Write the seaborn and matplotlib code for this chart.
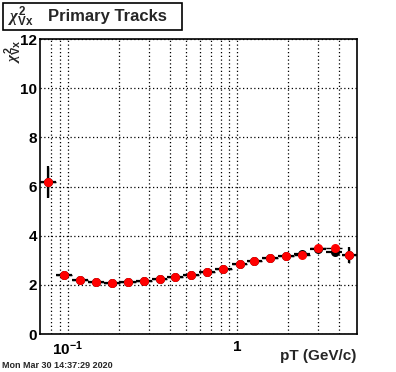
import numpy as np
import pandas as pd
import matplotlib
matplotlib.use("Agg")
import matplotlib.pyplot as plt
import seaborn as sns
from matplotlib.patches import Rectangle
from matplotlib.ticker import FixedLocator, NullFormatter, FixedFormatter

# pT bin centres (GeV/c)
pt = [0.0765, 0.0955, 0.1185, 0.1475, 0.183, 0.228, 0.281, 0.348, 0.432, 0.537,
      0.668, 0.830, 1.037, 1.265, 1.573, 1.955, 2.43, 3.02, 3.76, 4.60]
# red series (drawn on top)
chi2_red = [6.19, 2.41, 2.20, 2.10, 2.06, 2.10, 2.14, 2.24, 2.32, 2.39,
            2.51, 2.64, 2.85, 2.97, 3.08, 3.17, 3.21, 3.51, 3.52, 3.21]
err_red = [0.62, 0.05, 0.03, 0.03, 0.03, 0.03, 0.03, 0.03, 0.03, 0.03,
           0.03, 0.04, 0.04, 0.05, 0.05, 0.06, 0.07, 0.09, 0.12, 0.30]
# black series (mostly hidden behind red)
chi2_black = [6.19, 2.41, 2.20, 2.10, 2.06, 2.10, 2.14, 2.24, 2.32, 2.39,
              2.51, 2.64, 2.85, 2.97, 3.10, 3.19, 3.24, 3.44, 3.32, 3.21]
err_black = [0.65, 0.05, 0.03, 0.03, 0.03, 0.03, 0.03, 0.03, 0.03, 0.03,
             0.03, 0.04, 0.04, 0.05, 0.05, 0.06, 0.07, 0.09, 0.12, 0.32]

df = pd.DataFrame({"pt": pt, "red": chi2_red, "black": chi2_black})

# bin edges from geometric midpoints between centres
lp = np.log10(pt)
mids = (lp[1:] + lp[:-1]) / 2
edges = np.concatenate([[2 * lp[0] - mids[0]], mids, [2 * lp[-1] - mids[-1]]])
x_lo = np.array(pt) - 10 ** edges[:-1]
x_hi = 10 ** edges[1:] - np.array(pt)

sns.set_style("white")
plt.rcParams["font.family"] = ["Liberation Sans", "DejaVu Sans"]
plt.rcParams["font.weight"] = "bold"
plt.rcParams["mathtext.fontset"] = "custom"
plt.rcParams["mathtext.rm"] = "Liberation Sans:bold"
plt.rcParams["mathtext.bf"] = "Liberation Sans:bold"
plt.rcParams["mathtext.it"] = "Liberation Serif:italic"
plt.rcParams["mathtext.default"] = "it"

fig = plt.figure(figsize=(3.96, 3.72), dpi=100)
ax = fig.add_axes([0.101, 0.102, 0.800, 0.793])

ax.errorbar(df["pt"], df["black"], xerr=[x_lo, x_hi], yerr=err_black,
            fmt="none", ecolor="black", elinewidth=1.6, capsize=0, zorder=2)
sns.scatterplot(data=df, x="pt", y="black", color="black", s=42, linewidth=0,
                ax=ax, zorder=3)
ax.errorbar(df["pt"], df["red"], xerr=[x_lo, x_hi], yerr=err_red,
            fmt="none", ecolor="black", elinewidth=1.0, capsize=0, zorder=4)
sns.scatterplot(data=df, x="pt", y="red", color="red", s=42, linewidth=0,
                ax=ax, zorder=5)

ax.set_xscale("log")
ax.set_xlim(10 ** edges[0], 10 ** edges[-1])
ax.set_ylim(0, 12)

ax.xaxis.set_major_locator(FixedLocator([0.1, 1]))
ax.xaxis.set_major_formatter(FixedFormatter([r"$\mathrm{10^{-1}}$", "1"]))
ax.xaxis.set_minor_locator(FixedLocator([0.08, 0.09, 0.2, 0.3, 0.4, 0.5, 0.6, 0.7,
                                         0.8, 0.9, 2, 3, 4]))
ax.xaxis.set_minor_formatter(NullFormatter())
ax.set_yticks([0, 2, 4, 6, 8, 10, 12])
ax.yaxis.set_minor_locator(FixedLocator(np.arange(0, 12.01, 0.4)))

ax.tick_params(axis="both", which="both", direction="in", top=False, right=False,
               colors="black", labelsize=11)
ax.tick_params(axis="y", which="major", length=8, width=1, pad=2)
ax.tick_params(axis="y", which="minor", length=4, width=1)
ax.tick_params(axis="x", which="major", length=5, width=1, pad=4)
ax.tick_params(axis="x", which="minor", length=4, width=1)
for lab in ax.get_xticklabels() + ax.get_yticklabels():
    lab.set_fontweight("bold")

ax.grid(True, axis="x", which="both", color="black", linestyle=(0, (1, 2)), linewidth=0.9)
ax.grid(True, axis="y", which="major", color="black", linestyle=(0, (1, 2)), linewidth=0.9)
ax.set_axisbelow(True)
for sp in ax.spines.values():
    sp.set_color("black")
    sp.set_linewidth(1.2)

ax.set_xlabel("pT (GeV/c)", fontsize=11, fontweight="bold", ha="right")
ax.xaxis.set_label_coords(1.0, -0.052)
ax.set_ylabel(r"$\chi^{\mathrm{2}}_{\mathrm{Vx}}$", fontsize=11, fontweight="bold", ha="right")
ax.yaxis.set_label_coords(-0.052, 1.0)

# title box
fig.patches.append(Rectangle((3 / 396, 1 - 30 / 372), 179 / 396, 27 / 372,
                             transform=fig.transFigure, facecolor="white",
                             edgecolor="black", linewidth=1.2))
fig.text(8 / 396, 1 - 17 / 372, r"$\chi^{\mathrm{2}}_{\mathrm{Vx}}$", fontsize=12,
         ha="left", va="center")
fig.text(48 / 396, 1 - 16 / 372, "Primary Tracks", fontsize=12, fontweight="bold",
         ha="left", va="center")
fig.text(0.005, 0.005, "Mon Mar 30 14:37:29 2020", fontsize=6.5, fontweight="bold",
         ha="left", va="bottom")

fig.savefig("out.png", dpi=100)
